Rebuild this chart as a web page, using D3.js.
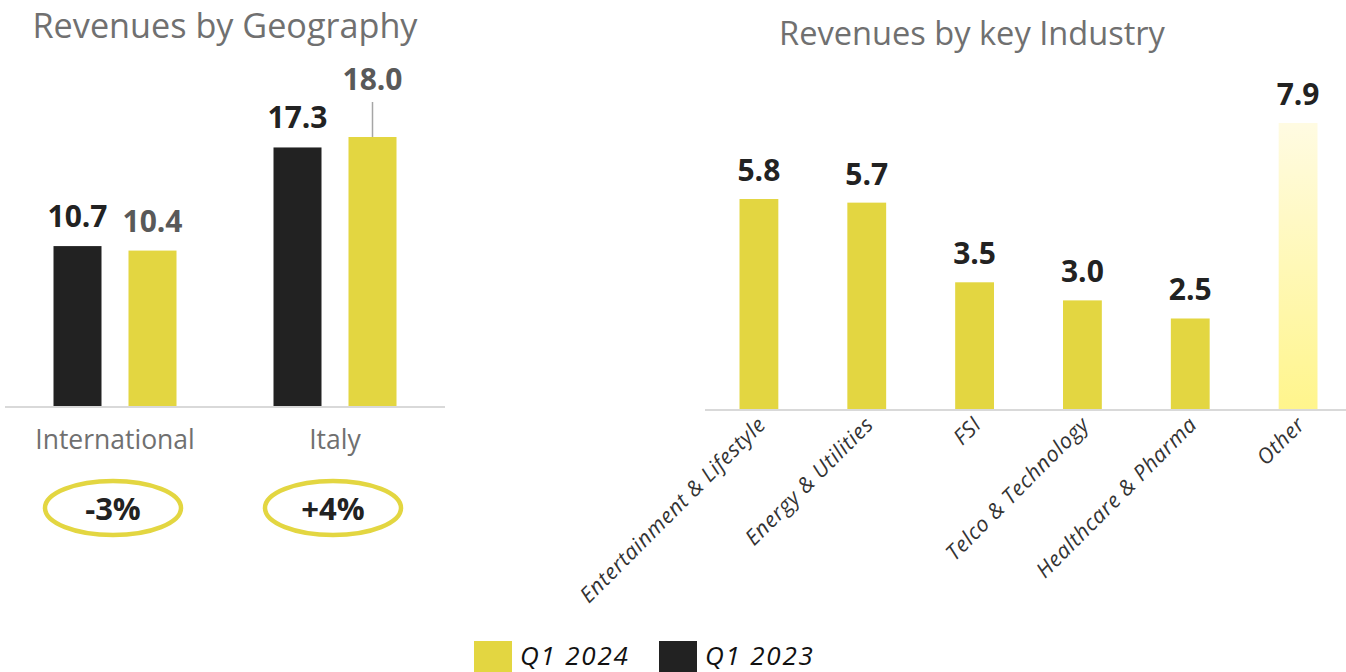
<!DOCTYPE html>
<html>
<head>
<meta charset="utf-8">
<script src="https://cdn.jsdelivr.net/npm/d3@7"></script>
<style>
  body { margin: 0; background: #fff; }
  text { font-family: "Open Sans", "DejaVu Sans", sans-serif; }
</style>
</head>
<body>
<script>
// data
var geoCategories = ['International', 'Italy'];
var geoSeries = ['Q1 2023', 'Q1 2024'];
var geo2023 = [10.7, 17.3];
var geo2024 = [10.4, 18.0];
var geoChange = ['-3%', '+4%'];

var industryCategories = ['Entertainment & Lifestyle', 'Energy & Utilities', 'FSI',
    'Telco & Technology', 'Healthcare & Pharma', 'Other'];
var industryValues = [5.8, 5.7, 3.5, 3.0, 2.5, 7.9];

var legendLabels = ['Q1 2024', 'Q1 2023'];

var yellow = '#e3d641';
var black = '#222222';

var svg = d3.select('body').append('svg')
    .attr('width', 1346)
    .attr('height', 672);

var defs = svg.append('defs');
var grad = defs.append('linearGradient')
    .attr('id', 'otherGrad')
    .attr('x1', 0).attr('y1', 0).attr('x2', 0).attr('y2', 1);
grad.append('stop').attr('offset', '0%').attr('stop-color', '#fffbe2');
grad.append('stop').attr('offset', '100%').attr('stop-color', '#fff58c');

// fit a title to a given width
function fitText(sel, width) {
    var w = sel.node().getComputedTextLength();
    var fs = parseFloat(sel.attr('font-size'));
    sel.attr('font-size', fs * width / w);
}

// ---------- left chart ----------
var x0 = d3.scaleBand().domain(geoCategories).range([5, 445]);
var x1 = d3.scaleBand().domain(geoSeries)
    .range([48.5, 171.5]).paddingInner(0.36).paddingOuter(0);
var yL = d3.scaleLinear().domain([0, 18]).range([406, 137]);

var t1 = svg.append('text')
    .attr('x', 225).attr('y', 38)
    .attr('text-anchor', 'middle')
    .attr('font-size', 30)
    .attr('fill', '#707070')
    .text('Revenues by Geography');
fitText(t1, 385);

var geoRows = geoCategories.map(function(c, i) {
    return [{cat: c, s: 'Q1 2023', v: geo2023[i]}, {cat: c, s: 'Q1 2024', v: geo2024[i]}];
});

var groups = svg.selectAll('.geo').data(geoRows).enter().append('g')
    .attr('transform', function(d) { return 'translate(' + x0(d[0].cat) + ',0)'; });

groups.selectAll('rect').data(function(d) { return d; }).enter().append('rect')
    .attr('x', function(d) { return x1(d.s); })
    .attr('y', function(d) { return yL(d.v); })
    .attr('width', x1.bandwidth())
    .attr('height', function(d) { return yL(0) - yL(d.v); })
    .attr('fill', function(d) { return d.s == 'Q1 2023' ? black : yellow; });

groups.selectAll('text.val').data(function(d) { return d; }).enter().append('text')
    .attr('class', 'val')
    .attr('x', function(d) { return x1(d.s) + x1.bandwidth() / 2; })
    .attr('y', function(d) {
        // the 18.0 label sits higher with a leader line
        return d.v == 18 ? yL(d.v) - 47 : yL(d.v) - 19;
    })
    .attr('text-anchor', 'middle')
    .attr('font-weight', 'bold')
    .attr('font-size', 30)
    .attr('fill', function(d) { return d.s == 'Q1 2023' ? black : '#595959'; })
    .text(function(d) { return d.v.toFixed(1); });

// leader line for 18.0
svg.append('line')
    .attr('x1', x0('Italy') + x1('Q1 2024') + x1.bandwidth() / 2)
    .attr('x2', x0('Italy') + x1('Q1 2024') + x1.bandwidth() / 2)
    .attr('y1', yL(18))
    .attr('y2', yL(18) - 35)
    .attr('stroke', '#a6a6a6')
    .attr('stroke-width', 1.5);

svg.append('line')
    .attr('x1', 5).attr('x2', 445)
    .attr('y1', yL(0) + 1).attr('y2', yL(0) + 1)
    .attr('stroke', '#d9d9d9').attr('stroke-width', 2);

svg.selectAll('.geoLabel').data(geoCategories).enter().append('text')
    .attr('x', function(d) { return x0(d) + x0.bandwidth() / 2; })
    .attr('y', 449)
    .attr('text-anchor', 'middle')
    .attr('font-size', 26.5)
    .attr('fill', '#707070')
    .text(function(d) { return d; });

svg.selectAll('.chg').data(geoChange).enter().append('ellipse')
    .attr('cx', function(d, i) { return x0(geoCategories[i]) + x0.bandwidth() / 2 - 2; })
    .attr('cy', 508)
    .attr('rx', 68)
    .attr('ry', 27)
    .attr('fill', 'none')
    .attr('stroke', yellow)
    .attr('stroke-width', 4.5);

svg.selectAll('.chgText').data(geoChange).enter().append('text')
    .attr('x', function(d, i) { return x0(geoCategories[i]) + x0.bandwidth() / 2 - 2; })
    .attr('y', 520)
    .attr('text-anchor', 'middle')
    .attr('font-weight', 'bold')
    .attr('font-size', 31)
    .attr('fill', black)
    .text(function(d) { return d; });

// ---------- right chart ----------
var xR = d3.scaleBand().domain(industryCategories)
    .range([705, 1352]).paddingInner(0.64).paddingOuter(0.32);
var yR = d3.scaleLinear().domain([0, 7.9]).range([409, 123]);

var t2 = svg.append('text')
    .attr('x', 972).attr('y', 45)
    .attr('text-anchor', 'middle')
    .attr('font-size', 30)
    .attr('fill', '#707070')
    .text('Revenues by key Industry');
fitText(t2, 386);

svg.selectAll('.ind').data(industryValues).enter().append('rect')
    .attr('x', function(d, i) { return xR(industryCategories[i]); })
    .attr('y', function(d) { return yR(d); })
    .attr('width', xR.bandwidth())
    .attr('height', function(d) { return yR(0) - yR(d); })
    .attr('fill', function(d, i) { return industryCategories[i] == 'Other' ? 'url(#otherGrad)' : yellow; });

svg.selectAll('.indVal').data(industryValues).enter().append('text')
    .attr('x', function(d, i) { return xR(industryCategories[i]) + xR.bandwidth() / 2; })
    .attr('y', function(d) { return yR(d) - 18; })
    .attr('text-anchor', 'middle')
    .attr('font-weight', 'bold')
    .attr('font-size', 30)
    .attr('fill', black)
    .text(function(d) { return d.toFixed(1); });

svg.append('line')
    .attr('x1', 705).attr('x2', 1346)
    .attr('y1', yR(0) + 1).attr('y2', yR(0) + 1)
    .attr('stroke', '#d9d9d9').attr('stroke-width', 2);

svg.selectAll('.indLabel').data(industryCategories).enter().append('text')
    .attr('transform', function(d) {
        return 'translate(' + (xR(d) + xR.bandwidth() / 2 + 8) + ',' + 426 + ') rotate(-45)';
    })
    .attr('text-anchor', 'end')
    .attr('font-size', 21.5)
    .attr('letter-spacing', 0.6)
    .attr('font-style', 'italic')
    .attr('fill', '#333333')
    .text(function(d) { return d; });

// ---------- legend ----------
var legendX = d3.scaleOrdinal().domain(legendLabels).range([474, 659]);
var legendColor = d3.scaleOrdinal().domain(legendLabels).range([yellow, black]);

svg.selectAll('.legRect').data(legendLabels).enter().append('rect')
    .attr('x', function(d) { return legendX(d); })
    .attr('y', 641)
    .attr('width', 38)
    .attr('height', 31)
    .attr('fill', function(d) { return legendColor(d); });

svg.selectAll('.legText').data(legendLabels).enter().append('text')
    .attr('x', function(d) { return legendX(d) + 46; })
    .attr('y', 665)
    .attr('font-size', 26)
    .attr('letter-spacing', 1.8)
    .attr('font-style', 'italic')
    .attr('fill', '#111')
    .text(function(d) { return d; });
</script>
</body>
</html>
